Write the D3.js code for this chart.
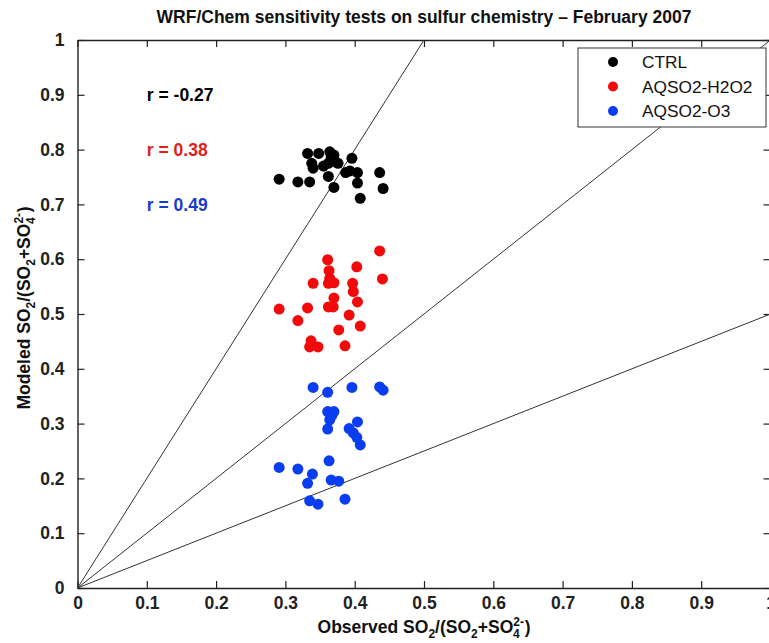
<!DOCTYPE html>
<html>
<head>
<meta charset="utf-8">
<script src="https://cdn.jsdelivr.net/npm/d3@7"></script>
<style>
  body { margin: 0; background: #fff; }
  text { font-family: "Liberation Sans", Arial, sans-serif; }
</style>
</head>
<body>
<div id="scatter"></div>
<script>
// Observed / modeled SO2 fractions
var ctrlObs = [0.291, 0.318, 0.335, 0.332, 0.348, 0.364, 0.370, 0.338, 0.340, 0.362, 0.376, 0.362, 0.370,
  0.396, 0.387, 0.393, 0.404, 0.404, 0.408, 0.436, 0.441, 0.372, 0.366, 0.355];
var ctrlMod = [0.746, 0.741, 0.741, 0.793, 0.793, 0.796, 0.790, 0.775, 0.766, 0.775, 0.775, 0.751, 0.731,
  0.784, 0.758, 0.761, 0.758, 0.739, 0.711, 0.758, 0.729, 0.778, 0.785, 0.770];

var h2o2Obs = [0.291, 0.318, 0.332, 0.340, 0.361, 0.363, 0.364, 0.362, 0.370, 0.370, 0.362, 0.369, 0.377,
  0.337, 0.335, 0.347, 0.386, 0.392, 0.408, 0.404, 0.397, 0.398, 0.403, 0.436, 0.440];
var h2o2Mod = [0.509, 0.488, 0.511, 0.556, 0.599, 0.579, 0.565, 0.556, 0.557, 0.529, 0.513, 0.513, 0.471,
  0.451, 0.440, 0.440, 0.442, 0.498, 0.478, 0.522, 0.556, 0.541, 0.586, 0.615, 0.564];

var o3Obs = [0.340, 0.361, 0.396, 0.436, 0.441, 0.361, 0.370, 0.364, 0.361, 0.367, 0.404, 0.392, 0.398,
  0.403, 0.408, 0.291, 0.318, 0.339, 0.332, 0.363, 0.366, 0.377, 0.335, 0.347, 0.386];
var o3Mod = [0.366, 0.357, 0.366, 0.367, 0.361, 0.322, 0.322, 0.307, 0.290, 0.315, 0.303, 0.291, 0.283,
  0.275, 0.261, 0.220, 0.217, 0.208, 0.191, 0.232, 0.197, 0.195, 0.159, 0.153, 0.162];

var seriesNames = ["CTRL", "AQSO2-H2O2", "AQSO2-O3"];
var seriesColors = ["#000000", "#f20a0a", "#0a3cf0"];
var rValues = ["-0.27", "0.38", "0.49"];
var rTextColors = ["#000000", "#e01e1e", "#1a3ad0"];
var refSlopes = [2, 1, 0.5];
var xTicks = [0, 0.1, 0.2, 0.3, 0.4, 0.5, 0.6, 0.7, 0.8, 0.9, 1];
var yTicks = [0, 0.1, 0.2, 0.3, 0.4, 0.5, 0.6, 0.7, 0.8, 0.9, 1];

var svgWidth = 769;
var svgHeight = 643;

var margin = { top: 40, left: 77.5 };
var width = 693;
var height = 548;

var svg = d3.select("#scatter")
  .append("svg")
  .attr("width", svgWidth)
  .attr("height", svgHeight);

var xScale = d3.scaleLinear().domain([0, 1]).range([margin.left, margin.left + width]);
var yScale = d3.scaleLinear().domain([0, 1]).range([margin.top + height, margin.top]);

var fmt = d => (d === 0 || d === 1) ? String(d) : d.toFixed(1);

// Axes (MATLAB style, inward ticks on all four sides)
var bottomAxis = d3.axisBottom(xScale).tickValues(xTicks).tickSizeInner(-7).tickSizeOuter(0)
  .tickPadding(9).tickFormat(fmt);
var leftAxis = d3.axisLeft(yScale).tickValues(yTicks).tickSizeInner(-7).tickSizeOuter(0)
  .tickPadding(13).tickFormat(fmt);
var topAxis = d3.axisTop(xScale).tickValues(xTicks).tickSizeInner(-7).tickSizeOuter(0).tickFormat("");
var rightAxis = d3.axisRight(yScale).tickValues(yTicks).tickSizeInner(-7).tickSizeOuter(0).tickFormat("");

var axes = [
  svg.append("g").attr("transform", `translate(0, ${margin.top + height})`).call(bottomAxis),
  svg.append("g").attr("transform", `translate(${margin.left}, 0)`).call(leftAxis),
  svg.append("g").attr("transform", `translate(0, ${margin.top})`).call(topAxis),
  svg.append("g").attr("transform", `translate(${margin.left + width}, 0)`).call(rightAxis)
];
axes.forEach(function(g) {
  g.select(".domain").attr("stroke", "#222").attr("stroke-width", 1.4);
  g.selectAll(".tick line").attr("stroke", "#222").attr("stroke-width", 1.2);
  g.selectAll(".tick text")
    .attr("fill", "#222")
    .attr("font-size", "17.5px")
    .attr("font-weight", "bold");
});

// Reference lines y = 2x, y = x, y = x/2
svg.append("g").selectAll("line")
  .data(refSlopes)
  .enter()
  .append("line")
  .attr("x1", xScale(0))
  .attr("y1", yScale(0))
  .attr("x2", d => xScale(Math.min(1, 1 / d)))
  .attr("y2", d => yScale(d * Math.min(1, 1 / d)))
  .attr("stroke", "#333")
  .attr("stroke-width", 1);

// Points
var series = [
  { obs: ctrlObs, mod: ctrlMod },
  { obs: h2o2Obs, mod: h2o2Mod },
  { obs: o3Obs, mod: o3Mod }
];
series.forEach(function(s, i) {
  svg.append("g").selectAll("circle")
    .data(s.obs.map((o, j) => [o, s.mod[j]]))
    .enter()
    .append("circle")
    .attr("cx", d => xScale(d[0]))
    .attr("cy", d => yScale(d[1]))
    .attr("r", 5.5)
    .attr("fill", seriesColors[i]);
});

// Correlation labels
svg.append("g").selectAll("text")
  .data(rValues)
  .enter()
  .append("text")
  .attr("x", xScale(0.1))
  .attr("y", (d, i) => yScale(0.9 - i * 0.1))
  .attr("dy", "0.35em")
  .attr("font-size", "17.5px")
  .attr("font-weight", "bold")
  .attr("fill", (d, i) => rTextColors[i])
  .text(d => `r = ${d}`);

// Legend
var legend = svg.append("g").attr("transform", "translate(578, 48)");
legend.append("rect")
  .attr("width", 188)
  .attr("height", 79)
  .attr("fill", "#fff")
  .attr("stroke", "#333")
  .attr("stroke-width", 1);
seriesNames.forEach(function(name, i) {
  legend.append("circle")
    .attr("cx", 35)
    .attr("cy", 14 + i * 24.5)
    .attr("r", 5)
    .attr("fill", seriesColors[i]);
  legend.append("text")
    .attr("x", 64)
    .attr("y", 14 + i * 24.5)
    .attr("dy", "0.35em")
    .attr("font-size", "17.3px")
    .attr("fill", "#111")
    .text(name);
});

// Title
svg.append("text")
  .attr("x", margin.left + width / 2)
  .attr("y", 23)
  .attr("text-anchor", "middle")
  .attr("font-size", "17.5px")
  .attr("font-weight", "bold")
  .attr("fill", "#111")
  .text("WRF/Chem sensitivity tests on sulfur chemistry \u2013 February 2007");

// Axis label with sub/superscripts
function chemLabel(sel, prefix) {
  sel.attr("font-size", "17.5px").attr("font-weight", "bold").attr("fill", "#111");
  sel.append("tspan").text(prefix + "SO");
  sel.append("tspan").attr("font-size", "12px").attr("dy", 5).text("2");
  sel.append("tspan").attr("dy", -5).text("/(SO");
  sel.append("tspan").attr("font-size", "12px").attr("dy", 5).text("2");
  sel.append("tspan").attr("dy", -5).text("+SO");
  sel.append("tspan").attr("font-size", "12px").attr("dy", -7).text("2-");
  sel.append("tspan").attr("font-size", "12px").attr("dx", -11).attr("dy", 12).text("4");
  sel.append("tspan").attr("dx", 5).attr("dy", -5).text(")");
}

svg.append("text")
  .attr("x", margin.left + width / 2)
  .attr("y", 633)
  .attr("text-anchor", "middle")
  .call(chemLabel, "Observed ");

svg.append("text")
  .attr("transform", `translate(30, ${margin.top + height / 2 - 6}) rotate(-90)`)
  .attr("text-anchor", "middle")
  .call(chemLabel, "Modeled ");
</script>
</body>
</html>
